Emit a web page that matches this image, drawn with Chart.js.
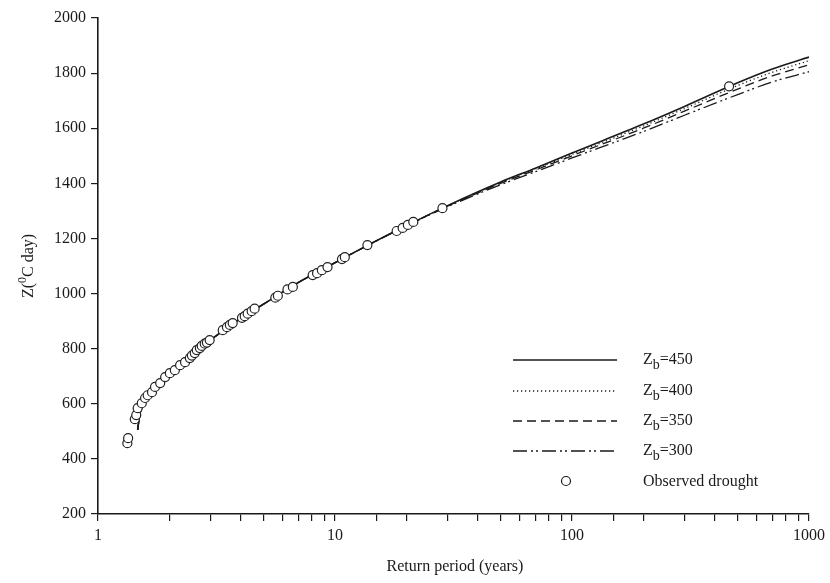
<!DOCTYPE html>
<html><head><meta charset="utf-8">
<script src="https://cdn.jsdelivr.net/npm/chart.js@4.4.1/dist/chart.umd.min.js"></script>
<style>html,body{margin:0;padding:0;background:#fff;}#wrap{width:830px;height:583px;position:relative;}</style>
</head><body><div id="wrap"><canvas id="c" width="830" height="583"></canvas></div>
<script>
// ---- data ----
const curvePeriods = [1.47, 1.5, 1.55, 1.6, 1.7, 1.8, 2, 2.5, 3, 4, 5, 7, 10, 15, 20, 30, 50, 70, 100, 200, 300, 500, 700, 1000];
const zb450 = [505, 560, 595, 615, 648, 672, 712, 782, 833, 910, 962, 1040, 1112, 1192, 1246, 1320, 1405, 1455, 1510, 1615, 1680, 1765, 1815, 1858];
const zb400 = [505, 560, 595, 615, 648, 672, 712, 782, 833, 910, 962, 1040, 1112, 1192, 1246, 1319, 1403, 1452, 1505, 1608, 1672, 1755, 1803, 1845];
const zb350 = [505, 560, 595, 615, 648, 672, 712, 782, 833, 910, 962, 1040, 1112, 1192, 1246, 1318, 1400, 1448, 1500, 1600, 1663, 1742, 1790, 1830];
const zb300 = [505, 560, 595, 615, 648, 672, 712, 782, 833, 910, 962, 1040, 1112, 1192, 1246, 1316, 1395, 1442, 1492, 1588, 1648, 1722, 1768, 1805];
const observedPeriods = [1.33, 1.34, 1.43, 1.45, 1.47, 1.53, 1.58, 1.62, 1.69, 1.74, 1.83, 1.92, 2.01, 2.11, 2.22, 2.33, 2.44, 2.49, 2.56, 2.61, 2.69, 2.74, 2.82, 2.88, 2.96, 3.36, 3.5, 3.6, 3.7, 4.05, 4.16, 4.28, 4.45, 4.58, 5.6, 5.74, 6.3, 6.64, 8.05, 8.4, 8.8, 9.3, 10.7, 11.0, 13.7, 18.2, 19.3, 20.3, 21.4, 28.4, 460];
const observedZ = [457, 475, 544, 559, 584, 602, 621, 631, 642, 661, 675, 697, 711, 722, 740, 751, 766, 775, 784, 795, 802, 810, 818, 822, 831, 867, 878, 886, 893, 912, 918, 927, 936, 945, 985, 992, 1015, 1024, 1067, 1074, 1085, 1096, 1125, 1132, 1176, 1227, 1238, 1249, 1260, 1310, 1752];
const xTickLabels = [1, 10, 100, 1000];
const yMin = 200, yMax = 2000, yStep = 200;
const zbValues = ['450', '400', '350', '300'];
const observedLabel = 'Observed drought';
const xTitle = 'Return period (years)';

const FONT = "'Liberation Serif', 'Times New Roman', serif";
const toXY = (xs, ys) => xs.map((x, i) => ({x: x, y: ys[i]}));

const lineStyles = [
  {dash: [], width: 1.6},
  {dash: [1.2, 2.8], width: 1.3},
  {dash: [9, 5], width: 1.3},
  {dash: [14, 4, 2, 3, 2, 4], width: 1.3}
];
const curves = [zb450, zb400, zb350, zb300];

const datasets = [{
  label: observedLabel, data: toXY(observedPeriods, observedZ), order: 0,
  showLine: false, pointRadius: 4.5, pointBackgroundColor: '#fff',
  pointBorderColor: '#222', pointBorderWidth: 1.2
}];
curves.forEach((c, i) => datasets.push({
  label: 'Zb=' + zbValues[i], data: toXY(curvePeriods, c), order: i + 1,
  showLine: true, pointRadius: 0, borderColor: '#1a1a1a', borderWidth: lineStyles[i].width,
  borderDash: lineStyles[i].dash, cubicInterpolationMode: 'monotone', fill: false
}));

const decor = {
  id: 'decor',
  afterDraw(chart) {
    const ctx = chart.ctx;
    ctx.save();
    ctx.fillStyle = '#1a1a1a';
    ctx.strokeStyle = '#1a1a1a';
    // legend
    const lx0 = 513, lx1 = 617, tx = 643;
    const ly = [360, 391, 421, 451];
    zbValues.forEach((v, i) => {
      ctx.beginPath();
      ctx.setLineDash(lineStyles[i].dash);
      ctx.lineWidth = lineStyles[i].width;
      ctx.moveTo(lx0, ly[i]); ctx.lineTo(lx1, ly[i]); ctx.stroke();
      ctx.setLineDash([]);
      ctx.textBaseline = 'alphabetic'; ctx.textAlign = 'left';
      ctx.font = '16px ' + FONT;
      ctx.fillText('Z', tx, ly[i] + 4);
      let w = ctx.measureText('Z').width;
      ctx.font = '14px ' + FONT;
      ctx.fillText('b', tx + w, ly[i] + 9);
      w += ctx.measureText('b').width;
      ctx.font = '16px ' + FONT;
      ctx.fillText('=' + v, tx + w, ly[i] + 4);
    });
    ctx.beginPath();
    ctx.lineWidth = 1.2;
    ctx.fillStyle = '#fff';
    ctx.arc(566, 481, 4.5, 0, Math.PI * 2);
    ctx.fill(); ctx.stroke();
    ctx.fillStyle = '#1a1a1a';
    ctx.font = '16px ' + FONT;
    ctx.fillText(observedLabel, tx, 486);
    // x title
    ctx.textAlign = 'center';
    ctx.font = '16px ' + FONT;
    ctx.fillText(xTitle, 455, 571);
    // y title with superscript
    ctx.save();
    ctx.translate(33, 266);
    ctx.rotate(-Math.PI / 2);
    ctx.textAlign = 'left';
    const p1 = 'Z(', p2 = '0', p3 = 'C day)';
    ctx.font = '16px ' + FONT;
    const w1 = ctx.measureText(p1).width, w3 = ctx.measureText(p3).width;
    ctx.font = '12px ' + FONT;
    const w2 = ctx.measureText(p2).width;
    let x = -(w1 + w2 + w3) / 2;
    ctx.font = '16px ' + FONT; ctx.fillText(p1, x, 0); x += w1;
    ctx.font = '12px ' + FONT; ctx.fillText(p2, x, -7); x += w2;
    ctx.font = '16px ' + FONT; ctx.fillText(p3, x, 0);
    ctx.restore();
    ctx.restore();
  }
};

new Chart(document.getElementById('c'), {
  type: 'scatter',
  data: {datasets: datasets},
  options: {
    responsive: false, animation: false, devicePixelRatio: 1,
    layout: {padding: {top: 18, right: 20, left: 0, bottom: 0}},
    plugins: {legend: {display: false}, tooltip: {enabled: false}},
    scales: {
      x: {
        type: 'logarithmic', min: 1, max: 1000, position: 'bottom',
        grid: {drawOnChartArea: false, drawTicks: true, tickLength: 7, color: '#1a1a1a', lineWidth: 1.2},
        border: {color: '#1a1a1a', width: 1.6},
        ticks: {
          autoSkip: false, maxRotation: 0, padding: 5, color: '#1a1a1a',
          font: {family: FONT, size: 16},
          callback: v => xTickLabels.includes(v) ? String(v) : ''
        },
        afterFit: s => { s.height = 69; }
      },
      y: {
        min: yMin, max: yMax,
        grid: {drawOnChartArea: false, drawTicks: true, tickLength: 7, color: '#1a1a1a', lineWidth: 1.2},
        border: {color: '#1a1a1a', width: 1.6},
        ticks: {stepSize: yStep, padding: 5, color: '#1a1a1a', font: {family: FONT, size: 16},
          callback: v => String(v)},
        afterFit: s => { s.width = 98; }
      }
    }
  },
  plugins: [decor]
});
</script></body></html>
